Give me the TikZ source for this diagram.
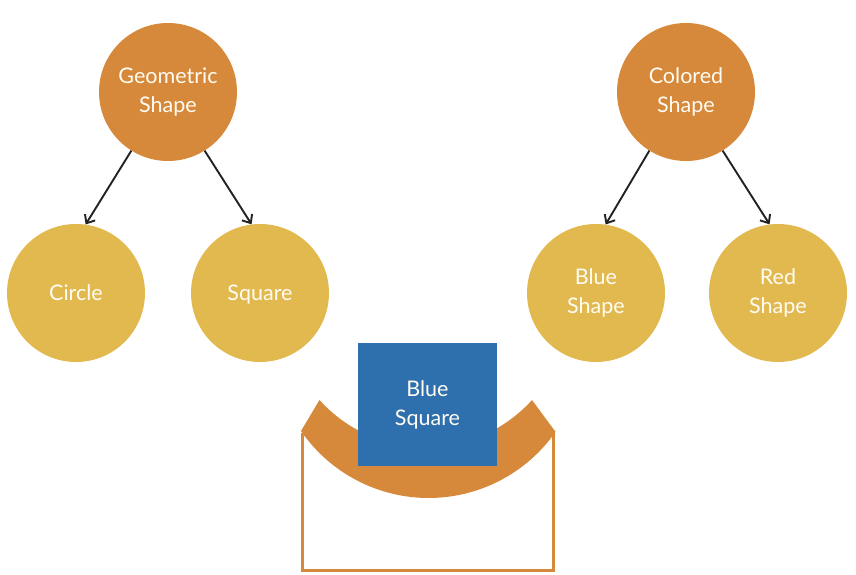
\documentclass[tikz,border=0pt]{standalone}
\usepackage{fontspec}
\setmainfont{Lato}
\usetikzlibrary{arrows.meta}
\definecolor{parent-orange}{HTML}{D6893A}
\definecolor{child-gold}{HTML}{E2B94F}
\definecolor{square-blue}{HTML}{2E70AD}
\definecolor{arrow-dark}{HTML}{222222}
\definecolor{label-white}{HTML}{FFFCF4}

\begin{document}
\begin{tikzpicture}[x=1pt, y=-1pt,
    every node/.style={font=\fontsize{21.5}{29}\selectfont, text=label-white, align=center},
    parent/.style={circle, fill=parent-orange, minimum size=138pt, inner sep=0pt},
    child/.style={circle, fill=child-gold, minimum size=138pt, inner sep=0pt},
    oneline/.style={text height=17pt, text depth=3pt},
    link/.style={line width=1.9pt, color=arrow-dark, -{Straight Barb[length=7pt,width=12pt]}}]
  \useasboundingbox (0,0) rectangle (856,575);
  \node[parent] (geo) at (168,92) {Geometric\\Shape};
  \node[parent] (col) at (686,92) {Colored\\Shape};
  \node[child, oneline] (circ) at (76,293) {Circle};
  \node[child, oneline] (sq) at (260,293) {Square};
  \node[child] (blue) at (596,293) {Blue\\Shape};
  \node[child] (red) at (778,293) {Red\\Shape};
  \draw[link] (geo.238) -- (circ.82);
  \draw[link] (geo.302) -- (sq.97);
  \draw[link] (col.238) -- (blue.82);
  \draw[link] (col.302) -- (red.97);
  \draw[line width=3pt, color=parent-orange] (302,434) rectangle (553,570);
  \fill[parent-orange] (301,431) arc[start angle=145.4, end angle=35, radius=155]
    -- (532,400) arc[start angle=42, end angle=138, radius=143] -- cycle;
  \node[rectangle, fill=square-blue, minimum width=139pt, minimum height=123pt, inner sep=0pt]
    (bsq) at (427.5,404.5) {Blue\\Square};
\end{tikzpicture}
\end{document}
